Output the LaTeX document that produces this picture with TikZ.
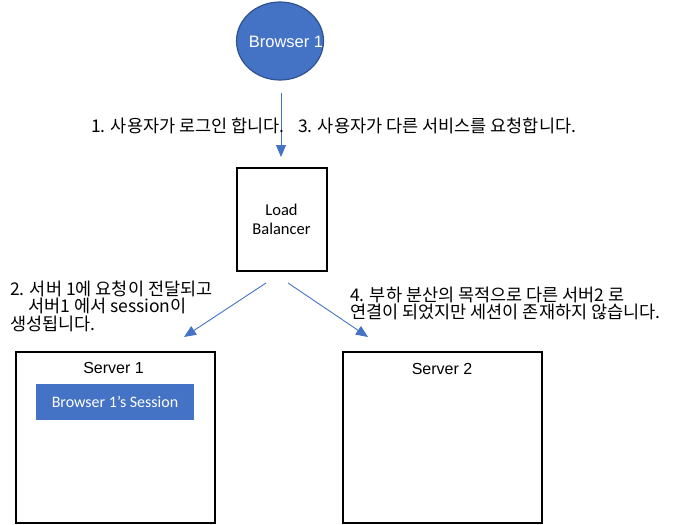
\documentclass[tikz,border=0pt]{standalone}
\usepackage{fontspec}
\setmainfont{Liberation Sans}
\newfontfamily\krfont{Noto Sans CJK KR}
\newfontfamily\calfont{Carlito}
\usetikzlibrary{arrows.meta,shapes.geometric}
\definecolor{obl}{HTML}{4472C4}
\definecolor{obd}{HTML}{2F528F}
\tikzset{
  box/.style={draw=black,line width=2pt,inner sep=0pt},
  conn/.style={draw=obl,line width=0.9pt,-{Triangle[length=12pt,width=10pt]}},
  lbl/.style={font=\krfont\fontsize{17.5}{17.5}\selectfont,inner sep=0pt,anchor=west,align=left},
}
\begin{document}
\begin{tikzpicture}[x=1pt,y=-1pt]
\useasboundingbox (0,0) rectangle (676,524);
% browser
\node[ellipse,draw=obd,line width=1.2pt,fill=obl,minimum width=87pt,minimum height=78pt,inner sep=0pt] (b1) at (280,41) {};
\node[text=white,inner sep=0pt,font=\fontsize{16.5}{20}\selectfont] (b1t) at (286,42) {Browser 1};
% load balancer
\node[box,minimum width=90pt,minimum height=103pt,align=center,font=\calfont\fontsize{16.5}{19}\selectfont] (lb) at (281.5,219) {Load\\Balancer};
% servers
\node[box,minimum width=199pt,minimum height=171pt] (s1) at (115.5,437) {};
\node[box,minimum width=199pt,minimum height=171pt] (s2) at (442.5,437) {};
\node[font=\fontsize{16}{19}\selectfont] (s1t) at (113.5,368) {Server 1};
\node[font=\fontsize{16}{19}\selectfont] (s2t) at (442,369) {Server 2};
\node[fill=obl,minimum width=158pt,minimum height=36pt,inner sep=0pt,text=white,font=\calfont\fontsize{16}{19}\selectfont] (ses) at (115,402) {Browser 1’s Session};
% connectors
\coordinate (a1s) at (281,93);
\coordinate (a1e) at (281,157);
\draw[conn] (a1s) -- (a1e);
\coordinate (a2s) at (266,283);
\coordinate (a2e) at (184,337);
\draw[conn] (a2s) -- (a2e);
\coordinate (a4s) at (288,283);
\coordinate (a4e) at (368,337);
\draw[conn] (a4s) -- (a4e);
% labels
\node[lbl] (l1) at (91,126) {1. 사용자가 로그인 합니다.};
\node[lbl] (l3) at (298,126) {3. 사용자가 다른 서비스를 요청합니다.};
\node[lbl] (l2) at (10,306) {2. 서버 1에 요청이 전달되고\\\hspace*{18pt}서버1 에서 session이\\생성됩니다.};
\node[lbl] (l4) at (350,303.5) {4. 부하 분산의 목적으로 다른 서버2 로\\연결이 되었지만 세션이 존재하지 않습니다.};
\end{tikzpicture}
\end{document}
